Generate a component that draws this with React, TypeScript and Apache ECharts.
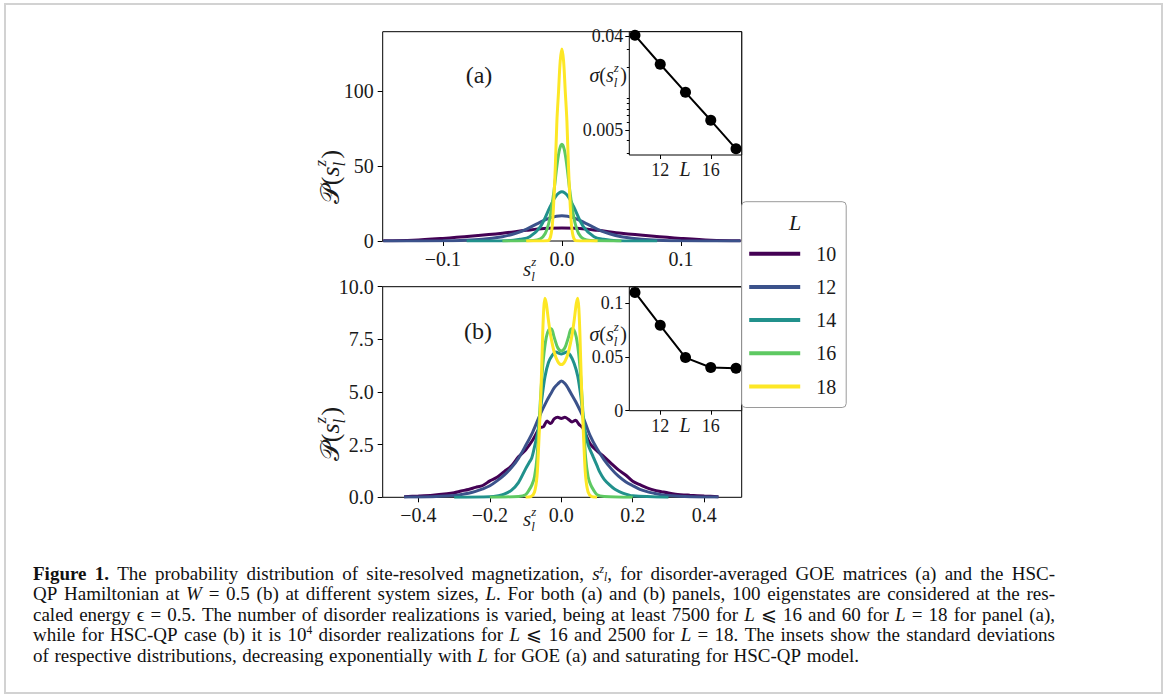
import React, { useEffect, useRef } from "react";
import * as echarts from "echarts";

const SERIF = "'Liberation Serif', 'DejaVu Serif', serif";
const INK = "#1a1a1a";

const SIZES = ["10", "12", "14", "16", "18"];
const COLORS = ["#440154", "#3b528b", "#21918c", "#5ec962", "#fde725"];

// ---------- panel (a): GOE ----------
const A_X_10 = [-0.15, -0.125, -0.1, -0.075, -0.05, -0.03, -0.015, 0, 0.015, 0.03, 0.05, 0.075, 0.1, 0.125, 0.15];
const A_Y_10 = [0.15, 0.5, 1.7, 3.3, 5.2, 7.1, 8.3, 8.6, 8.3, 7.1, 5.2, 3.3, 1.7, 0.5, 0.15];
const A_X_12 = [-0.15, -0.1, -0.085, -0.067, -0.05, -0.04, -0.03, -0.02, -0.01, 0, 0.01, 0.02, 0.03, 0.04, 0.05, 0.067, 0.085, 0.1, 0.15];
const A_Y_12 = [0, 0.1, 0.35, 1.1, 2.9, 4.8, 7.8, 11.8, 15.4, 16.8, 15.4, 11.8, 7.8, 4.8, 2.9, 1.1, 0.35, 0.1, 0];
const A_X_14 = [-0.08, -0.046, -0.035, -0.027, -0.018, -0.0098, -0.005, 0, 0.005, 0.0098, 0.018, 0.027, 0.035, 0.046, 0.08];
const A_Y_14 = [0, 0.2, 1.2, 2.9, 9.6, 23, 30, 32.8, 30, 23, 9.6, 2.9, 1.2, 0.2, 0];
const A_X_16 = [-0.05, -0.024, -0.018, -0.014, -0.011, -0.0085, -0.0064, -0.0042, -0.002, 0, 0.002, 0.0042, 0.0064, 0.0085, 0.011, 0.014, 0.018, 0.024, 0.05];
const A_Y_16 = [0, 0.3, 1.5, 5, 12, 23, 35, 50, 61, 64.5, 61, 50, 35, 23, 12, 5, 1.5, 0.3, 0];
const A_X_18 = [-0.03, -0.012, -0.0095, -0.0078, -0.0056, -0.0042, -0.0028, -0.0014, 0, 0.0014, 0.0028, 0.0042, 0.0056, 0.0078, 0.0095, 0.012, 0.03];
const A_Y_18 = [0, 0.2, 3, 13, 48, 80, 100, 120, 128, 120, 100, 80, 48, 13, 3, 0.2, 0];

// ---------- panel (b): HSC-QP ----------
const B_X_10 = [-0.44, -0.4, -0.36, -0.32, -0.3, -0.28, -0.26, -0.24, -0.22, -0.2, -0.18, -0.16, -0.14, -0.12, -0.1, -0.08, -0.06, -0.05, -0.04, -0.03, -0.02, -0.01, 0, 0.01, 0.02, 0.03, 0.04, 0.05, 0.06, 0.08, 0.1, 0.12, 0.14, 0.16, 0.18, 0.2, 0.22, 0.24, 0.26, 0.28, 0.3, 0.32, 0.36, 0.4, 0.44];
const B_Y_10 = [0.03, 0.06, 0.1, 0.17, 0.22, 0.3, 0.37, 0.47, 0.56, 0.78, 0.95, 1.22, 1.48, 1.92, 2.25, 2.72, 3.3, 3.35, 3.62, 3.5, 3.72, 3.8, 3.74, 3.8, 3.7, 3.58, 3.66, 3.45, 3.3, 2.56, 2.2, 1.92, 1.6, 1.3, 1.06, 0.76, 0.6, 0.45, 0.34, 0.27, 0.2, 0.15, 0.1, 0.06, 0.03];
const B_X_12 = [-0.44, -0.36, -0.3, -0.26, -0.24, -0.22, -0.2, -0.18, -0.16, -0.14, -0.12, -0.1, -0.08, -0.06, -0.04, -0.03, -0.02, -0.01, 0, 0.01, 0.02, 0.03, 0.04, 0.06, 0.08, 0.1, 0.12, 0.14, 0.16, 0.18, 0.2, 0.22, 0.24, 0.26, 0.28, 0.3, 0.36, 0.44];
const B_Y_12 = [0.01, 0.03, 0.08, 0.19, 0.28, 0.4, 0.55, 0.78, 1.05, 1.4, 1.85, 2.45, 3.1, 3.9, 4.6, 4.9, 5.2, 5.38, 5.52, 5.4, 5.15, 4.85, 4.55, 3.85, 2.95, 2.3, 1.78, 1.35, 1.0, 0.74, 0.55, 0.38, 0.27, 0.19, 0.12, 0.08, 0.03, 0.01];
const B_X_14 = [-0.3, -0.2, -0.176, -0.16, -0.14, -0.12, -0.1, -0.09, -0.083, -0.075, -0.065, -0.055, -0.046, -0.036, -0.025, -0.015, -0.008, 0, 0.008, 0.015, 0.025, 0.036, 0.046, 0.055, 0.065, 0.075, 0.089, 0.1, 0.107, 0.12, 0.135, 0.15, 0.172, 0.2, 0.3];
const B_Y_14 = [0, 0.03, 0.08, 0.15, 0.33, 0.7, 1.35, 1.65, 1.85, 2.4, 3.2, 4.6, 5.7, 6.4, 6.75, 6.9, 6.85, 6.8, 6.85, 6.9, 6.75, 6.35, 5.75, 4.75, 3.3, 2.5, 1.93, 1.5, 1.22, 0.85, 0.59, 0.38, 0.2, 0.07, 0];
const B_X_16 = [-0.2, -0.12, -0.1, -0.09, -0.082, -0.075, -0.068, -0.062, -0.056, -0.05, -0.042, -0.035, -0.028, -0.02, -0.01, 0, 0.01, 0.02, 0.028, 0.035, 0.042, 0.05, 0.056, 0.062, 0.068, 0.075, 0.082, 0.09, 0.1, 0.12, 0.2];
const B_Y_16 = [0, 0.04, 0.12, 0.35, 0.6, 0.98, 1.9, 3.6, 5.3, 6.6, 7.6, 7.95, 8.0, 7.6, 7.1, 6.95, 7.1, 7.6, 8.0, 7.95, 7.6, 6.6, 5.3, 3.6, 1.9, 0.98, 0.6, 0.35, 0.12, 0.04, 0];
const B_X_18 = [-0.1, -0.085, -0.075, -0.068, -0.063, -0.057, -0.052, -0.049, -0.046, -0.042, -0.036, -0.03, -0.02, -0.01, 0, 0.01, 0.02, 0.03, 0.036, 0.042, 0.046, 0.049, 0.052, 0.057, 0.063, 0.068, 0.075, 0.085, 0.1];
const B_Y_18 = [0, 0.03, 0.25, 1.0, 2.6, 5.0, 7.8, 9.0, 9.45, 9.2, 8.4, 7.7, 6.9, 6.45, 6.3, 6.45, 6.9, 7.7, 8.4, 9.2, 9.45, 9.0, 7.8, 5.0, 2.6, 1.0, 0.25, 0.03, 0];

// ---------- insets ----------
const INSET_L = [10, 12, 14, 16, 18];
const SIGMA_A = [0.0405, 0.0214, 0.0115, 0.0062, 0.0033];
const SIGMA_B = [0.11, 0.0794, 0.0494, 0.0402, 0.0395];

// ---------- ticks ----------
const A_X_TICKS = [-0.1, 0, 0.1];
const A_Y_TICKS = [0, 50, 100];
const B_X_TICKS = [-0.4, -0.2, 0, 0.2, 0.4];
const INSET_L_TICKS = [12, 16];
const INSET_A_Y_MAJOR = [0.005, 0.04];
const INSET_A_Y_MINOR = [0.003, 0.004, 0.006, 0.007, 0.008, 0.009, 0.01, 0.02, 0.03];
const INSET_B_Y_TICKS = [0, 0.05, 0.1];

// ---------- caption ----------
const CAPTION = [
  "{b|Figure} {b|1.} The probability distribution of site-resolved magnetization, {it|s}{supi|z}{subi|l}, for disorder-averaged GOE matrices (a) and the HSC-",
  "QP Hamiltonian at {it|W} = 0.5 (b) at different system sizes, {it|L}. For both (a) and (b) panels, 100 eigenstates are considered at the res-",
  "caled energy ϵ = 0.5. The number of disorder realizations is varied, being at least 7500 for {it|L} ⩽ 16 and 60 for {it|L} = 18 for panel (a),",
  "while for HSC-QP case (b) it is 10{sup|4} disorder realizations for {it|L} ⩽ 16 and 2500 for {it|L} = 18. The insets show the standard deviations",
  "of respective distributions, decreasing exponentially with {it|L} for GOE (a) and saturating for HSC-QP model.",
];

const zip = (xs: number[], ys: number[]) => xs.map((x, i) => [x, ys[i]]);
const fmt1 = (v: number) => (v < -1e-9 ? "\u2212" : "") + Math.abs(v).toFixed(1);
const fmtSig = (v: number) => (Math.abs(v) < 1e-12 ? "0" : String(parseFloat(v.toPrecision(2))));

export default function App() {
  const ref = useRef<HTMLDivElement>(null);

  useEffect(() => {
    const el = ref.current!;
    const chart = echarts.init(el, null, { renderer: "svg" });

    const canvas = document.createElement("canvas");
    const ctx = canvas.getContext("2d")!;
    const mw = (t: string, size: number, style = "normal", weight = "normal") => {
      ctx.font = `${style} ${weight} ${size}px ${SERIF}`;
      return ctx.measureText(t).width;
    };

    type Part = { text: string; x: number; dy: number; size: number; italic: boolean };
    const mathParts = (sym: string | null, symItalic: boolean, fs: number) => {
      const parts: Part[] = [];
      let x = 0;
      const push = (text: string, size: number, italic: boolean, dy = 0, advance = true) => {
        parts.push({ text, x, dy, size, italic });
        const w = mw(text, size, italic ? "italic" : "normal");
        if (advance) x += w;
        return w;
      };
      if (sym) {
        push(sym, fs, symItalic);
        push("(", fs, false);
      }
      push("s", fs, true);
      const small = Math.round(fs * 0.64);
      const wz = push("z", small, true, -fs * 0.37, false);
      const wl = push("l", small, true, fs * 0.35, false);
      x += Math.max(wz, wl) + 1.5;
      if (sym) push(")", fs, false);
      return { parts, width: x };
    };
    const partEls = (parts: Part[], offX: number) =>
      parts.map((p) => ({
        type: "text",
        x: p.x + offX,
        y: p.dy,
        style: {
          text: p.text,
          fill: INK,
          fontFamily: SERIF,
          fontSize: p.size,
          fontStyle: p.italic ? "italic" : "normal",
          verticalAlign: "middle",
          align: "left",
        },
      }));

    const yLab = mathParts("\uD835\uDCAB", false, 26);
    const sigLab = mathParts("\u03C3", true, 20);
    const xLab = mathParts(null, false, 21);

    const txt = (text: string, x: number, y: number, size: number, italic = false, align = "center") => ({
      type: "text",
      x,
      y,
      z: 50,
      style: {
        text,
        fill: INK,
        fontFamily: SERIF,
        fontSize: size,
        fontStyle: italic ? "italic" : "normal",
        align,
        verticalAlign: "middle",
      },
    });

    // ----- caption, justified word by word -----
    const CAP_FS = 19;
    const CAP_SMALL = 11.5;
    const capStyle = { fontFamily: SERIF, fill: "#111", fontSize: CAP_FS, lineHeight: 20 };
    const capRich: any = {
      b: { ...capStyle, fontWeight: "bold" },
      it: { ...capStyle, fontStyle: "italic" },
      sup: { fontFamily: SERIF, fill: "#111", fontSize: CAP_SMALL, lineHeight: 12, verticalAlign: "top" },
      supi: { fontFamily: SERIF, fill: "#111", fontSize: CAP_SMALL, lineHeight: 12, verticalAlign: "top", fontStyle: "italic" },
      subi: { fontFamily: SERIF, fill: "#111", fontSize: CAP_SMALL, lineHeight: 12, verticalAlign: "bottom", fontStyle: "italic" },
    };
    const measureRich = (word: string) => {
      const re = /\{(\w+)\|([^}]*)\}|([^{]+)/g;
      let m: RegExpExecArray | null;
      let w = 0;
      while ((m = re.exec(word))) {
        if (m[3] !== undefined) {
          w += mw(m[3], CAP_FS);
        } else {
          const st = capRich[m[1]] || {};
          w += mw(m[2], st.fontSize || CAP_FS, st.fontStyle || "normal", st.fontWeight || "normal");
        }
      }
      return w;
    };
    const CAP_X0 = 33;
    const CAP_X1 = 1055;
    const CAP_Y = [573.3, 593.7, 614, 634.4, 655];
    const captionEls: any[] = [];
    CAPTION.forEach((line, li) => {
      const words = line.split(" ");
      const widths = words.map(measureRich);
      const total = widths.reduce((a, b) => a + b, 0);
      const justify = li < CAPTION.length - 1;
      const gap = justify ? (CAP_X1 - CAP_X0 - total) / (words.length - 1) : mw(" ", CAP_FS) + 0.8;
      let x = CAP_X0;
      words.forEach((w, wi) => {
        captionEls.push({
          type: "text",
          x,
          y: CAP_Y[li],
          z: 50,
          style: { text: w, ...capStyle, verticalAlign: "middle", align: "left", rich: capRich },
        });
        x += widths[wi] + gap;
      });
    });

    const graphic: any[] = [
      {
        type: "rect",
        z: 0,
        silent: true,
        shape: { x: 5, y: 4, width: 1157, height: 689 },
        style: { fill: "none", stroke: "#d2d2d2", lineWidth: 2 },
      },
      // y axis names (rotated)
      { type: "group", x: 330, y: 177, rotation: Math.PI / 2, z: 50, children: partEls(yLab.parts, -yLab.width / 2) },
      { type: "group", x: 330, y: 434, rotation: Math.PI / 2, z: 50, children: partEls(yLab.parts, -yLab.width / 2) },
      // x axis names
      { type: "group", x: 523, y: 269, z: 50, children: partEls(xLab.parts, 0) },
      { type: "group", x: 523, y: 519, z: 50, children: partEls(xLab.parts, 0) },
      // inset y names
      { type: "group", x: 627 - sigLab.width, y: 75, z: 60, children: partEls(sigLab.parts, 0) },
      { type: "group", x: 627 - sigLab.width, y: 334, z: 60, children: partEls(sigLab.parts, 0) },
      // inset x names
      txt("L", 685, 168.5, 20, true),
      txt("L", 685, 424.5, 20, true),
      // panel tags
      txt("(a)", 479, 75, 24),
      txt("(b)", 478, 331, 24),
      // legend title
      { ...txt("L", 795, 222, 22, true), z: 200 },
      ...captionEls,
    ];

    const tickStyle = { color: "#000", width: 1 };
    const mainLabel = { fontFamily: SERIF, fontSize: 20, color: INK };
    const insetLabel = { fontFamily: SERIF, fontSize: 18, color: INK };
    const noLine = { show: false, onZero: false };

    const insetX = (gridIndex: number) => ({
      type: "value",
      gridIndex,
      min: 9.55,
      max: 18.45,
      splitLine: { show: false },
      axisLine: noLine,
      axisTick: { show: true, length: 4, lineStyle: tickStyle, customValues: INSET_L_TICKS },
      axisLabel: { ...insetLabel, margin: 6, customValues: INSET_L_TICKS },
    });

    const A_X = [A_X_10, A_X_12, A_X_14, A_X_16, A_X_18];
    const A_Y = [A_Y_10, A_Y_12, A_Y_14, A_Y_16, A_Y_18];
    const B_X = [B_X_10, B_X_12, B_X_14, B_X_16, B_X_18];
    const B_Y = [B_Y_10, B_Y_12, B_Y_14, B_Y_16, B_Y_18];

    const option: any = {
      animation: false,
      backgroundColor: "#fff",
      textStyle: { fontFamily: SERIF },
      grid: [
        { left: 382.7, top: 31.7, width: 359, height: 209.3, show: true, borderColor: "#000", borderWidth: 1, backgroundColor: "transparent" },
        { left: 629.3, top: 31.7, width: 112.4, height: 123.3, show: true, borderColor: "#000", borderWidth: 1, backgroundColor: "#fff" },
        { left: 382.7, top: 286.7, width: 359, height: 210.6, show: true, borderColor: "#000", borderWidth: 1, backgroundColor: "transparent" },
        { left: 629.3, top: 287, width: 112.4, height: 123.7, show: true, borderColor: "#000", borderWidth: 1, backgroundColor: "#fff" },
      ],
      xAxis: [
        {
          type: "value",
          gridIndex: 0,
          min: -0.1505,
          max: 0.151,
          splitLine: { show: false },
          axisLine: noLine,
          axisTick: { show: true, length: 5, lineStyle: tickStyle, customValues: A_X_TICKS },
          axisLabel: { ...mainLabel, margin: 8, customValues: A_X_TICKS, formatter: fmt1 },
        },
        insetX(1),
        {
          type: "value",
          gridIndex: 2,
          min: -0.5,
          max: 0.505,
          splitLine: { show: false },
          axisLine: noLine,
          axisTick: { show: true, length: 5, lineStyle: tickStyle, customValues: B_X_TICKS },
          axisLabel: { ...mainLabel, margin: 8, customValues: B_X_TICKS, formatter: fmt1 },
        },
        insetX(3),
      ],
      yAxis: [
        {
          type: "value",
          gridIndex: 0,
          min: 0,
          max: 139.5,
          splitLine: { show: false },
          axisLine: noLine,
          axisTick: { show: true, length: 5, lineStyle: tickStyle, customValues: A_Y_TICKS },
          axisLabel: { ...mainLabel, margin: 9, customValues: A_Y_TICKS },
        },
        {
          type: "log",
          logBase: 10,
          gridIndex: 1,
          position: "left",
          min: 0.00288,
          max: 0.0439,
          splitLine: { show: false },
          axisLine: noLine,
          axisTick: { show: true, length: 4, lineStyle: tickStyle, customValues: INSET_A_Y_MAJOR },
          axisLabel: { ...insetLabel, margin: 6, customValues: INSET_A_Y_MAJOR, formatter: fmtSig },
        },
        {
          type: "log",
          logBase: 10,
          gridIndex: 1,
          position: "left",
          min: 0.00288,
          max: 0.0439,
          splitLine: { show: false },
          axisLine: noLine,
          axisTick: { show: true, length: 2.5, lineStyle: tickStyle, customValues: INSET_A_Y_MINOR },
          axisLabel: { show: false },
        },
        {
          type: "value",
          gridIndex: 2,
          min: 0,
          max: 10,
          interval: 2.5,
          splitLine: { show: false },
          axisLine: noLine,
          axisTick: { show: true, length: 5, lineStyle: tickStyle },
          axisLabel: { ...mainLabel, margin: 9, formatter: (v: number) => v.toFixed(1) },
        },
        {
          type: "value",
          gridIndex: 3,
          min: 0,
          max: 0.115,
          splitLine: { show: false },
          axisLine: noLine,
          axisTick: { show: true, length: 4, lineStyle: tickStyle, customValues: INSET_B_Y_TICKS },
          axisLabel: { ...insetLabel, margin: 6, customValues: INSET_B_Y_TICKS, formatter: fmtSig },
        },
      ],
      legend: {
        show: true,
        orient: "vertical",
        left: 741.7,
        top: 201.7,
        padding: [41, 10, 10, 7.5],
        itemWidth: 51,
        itemHeight: 4,
        itemGap: 11.2,
        icon: "rect",
        selectedMode: false,
        backgroundColor: "#fff",
        borderColor: "#9a9a9a",
        borderWidth: 1,
        borderRadius: 4,
        z: 100,
        data: SIZES,
        textStyle: { fontFamily: SERIF, fontSize: 20, color: INK, lineHeight: 22, padding: [0, 0, 0, 11] },
      },
      series: [
        ...SIZES.map((name, i) => ({
          type: "line",
          name,
          xAxisIndex: 0,
          yAxisIndex: 0,
          data: zip(A_X[i], A_Y[i]),
          symbol: "none",
          showSymbol: false,
          smooth: 0.35,
          lineStyle: { width: 3, color: COLORS[i] },
          itemStyle: { color: COLORS[i] },
          z: 2 + i * 0.1,
        })),
        ...SIZES.map((name, i) => ({
          type: "line",
          name,
          xAxisIndex: 2,
          yAxisIndex: 3,
          data: zip(B_X[i], B_Y[i]),
          symbol: "none",
          showSymbol: false,
          smooth: 0.3,
          lineStyle: { width: 3, color: COLORS[i] },
          itemStyle: { color: COLORS[i] },
          z: 2 + i * 0.1,
        })),
        {
          type: "line",
          xAxisIndex: 1,
          yAxisIndex: 1,
          data: zip(INSET_L, SIGMA_A),
          symbol: "circle",
          symbolSize: 11,
          itemStyle: { color: "#000" },
          lineStyle: { color: "#000", width: 2 },
          z: 10,
        },
        {
          type: "line",
          xAxisIndex: 3,
          yAxisIndex: 4,
          data: zip(INSET_L, SIGMA_B),
          symbol: "circle",
          symbolSize: 11,
          itemStyle: { color: "#000" },
          lineStyle: { color: "#000", width: 2 },
          z: 10,
        },
      ],
      graphic,
    };

    chart.setOption(option);
    return () => chart.dispose();
  }, []);

  return (
    <div
      ref={ref}
      style={{ position: "fixed", left: 0, top: 0, width: 1165, height: 697, background: "#fff" }}
    />
  );
}
